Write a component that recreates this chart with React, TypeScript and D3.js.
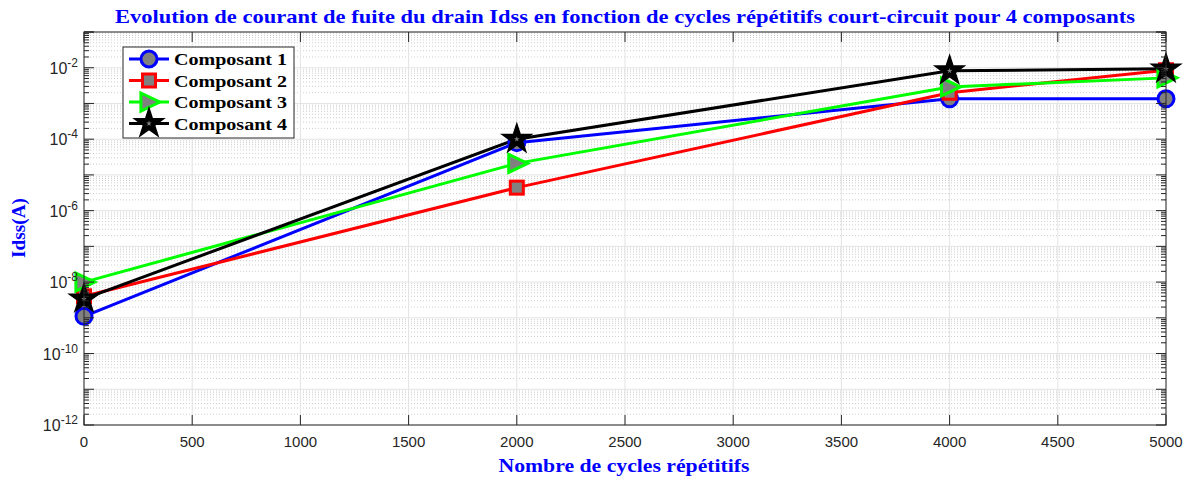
import * as d3 from "d3";

const W = 1192;
const H = 479;
const M = { top: 32, right: 26, bottom: 54, left: 84 };

const cycles = [0, 2000, 4000, 5000];
const seriesNames = ["Composant 1", "Composant 2", "Composant 3", "Composant 4"];
const comp1 = [1.1e-9, 8e-5, 1.35e-3, 1.35e-3];
const comp2 = [4e-9, 4.4e-6, 2e-3, 8.5e-3];
const comp3 = [1e-8, 2.1e-5, 2.9e-3, 5.2e-3];
const comp4 = [3.4e-9, 1e-4, 8.2e-3, 9.3e-3];
const xTicks = [0, 500, 1000, 1500, 2000, 2500, 3000, 3500, 4000, 4500, 5000];
const yLabelExps = [-12, -10, -8, -6, -4, -2];

const colors = ["#0000ff", "#ff0000", "#00ff00", "#000000"];
const markers = ["circle", "square", "triangle", "star"];
const allSeries = [comp1, comp2, comp3, comp4];

const serif = "'Liberation Serif', 'Times New Roman', serif";
const sans = "'Liberation Sans', Arial, sans-serif";

const Marker = ({ type, x, y, color, size = 1 }) => {
  if (type === "circle")
    return <circle cx={x} cy={y} r={8 * size} fill="#808080" stroke={color} strokeWidth={3} />;
  if (type === "square")
    return <rect x={x - 6.5 * size} y={y - 6.5 * size} width={13 * size} height={13 * size} fill="#808080" stroke={color} strokeWidth={3} />;
  if (type === "triangle") {
    const s = 9 * size;
    return <path d={`M${x - s * 0.9},${y - s} L${x + s * 1.2},${y} L${x - s * 0.9},${y + s} Z`} fill="#808080" stroke={color} strokeWidth={3} />;
  }
  const star = d3.symbol().type(d3.symbolStar).size(260 * size * size)();
  return (
    <g transform={`translate(${x},${y})`}>
      <path d={star} fill="#000" stroke="#000" strokeWidth={1.5} />
      <path d={d3.symbol().type(d3.symbolStar).size(10)()} fill="#808080" />
    </g>
  );
};

export default function App() {
  const iw = W - M.left - M.right;
  const ih = H - M.top - M.bottom;
  const x = d3.scaleLinear().domain([0, 5000]).range([0, iw]);
  const y = d3.scaleLog().domain([1e-12, 1e-1]).range([ih, 0]);

  const majors = d3.range(-12, 0).map((e) => Math.pow(10, e));
  const minors = [];
  d3.range(-12, -1).forEach((e) => {
    for (let k = 2; k <= 9; k++) minors.push(k * Math.pow(10, e));
  });

  const line = d3
    .line<number>()
    .x((_, i) => x(cycles[i]))
    .y((d) => y(d));

  return (
    <svg width={W} height={H} style={{ position: "absolute", left: 0, top: 0, background: "#fff" }}>
      <text x={625} y={23} textAnchor="middle" fontFamily={serif} fontWeight="bold" fontSize={19} fill="#0000ff" textLength={1020} lengthAdjust="spacingAndGlyphs">
        Evolution de courant de fuite du drain Idss en fonction de cycles répétitifs court-circuit pour 4 composants
      </text>
      <g transform={`translate(${M.left},${M.top})`}>
        {minors.map((v, i) => (
          <line key={"mg" + i} x1={0} x2={iw} y1={y(v)} y2={y(v)} stroke="#cfcfcf" strokeWidth={1} strokeDasharray="1,2" />
        ))}
        {majors.map((v, i) => (
          <line key={"Mg" + i} x1={0} x2={iw} y1={y(v)} y2={y(v)} stroke="#e3e3e3" strokeWidth={1} />
        ))}
        {xTicks.map((t) => (
          <line key={"xg" + t} x1={x(t)} x2={x(t)} y1={0} y2={ih} stroke="#e3e3e3" strokeWidth={1} />
        ))}

        {allSeries.map((s, i) => (
          <path key={"l" + i} d={line(s)} fill="none" stroke={colors[i]} strokeWidth={3} />
        ))}
        {allSeries.map((s, i) =>
          s.map((v, j) => <Marker key={`m${i}-${j}`} type={markers[i]} x={x(cycles[j])} y={y(v)} color={colors[i]} />)
        )}

        {/* box + ticks */}
        <rect x={0} y={0} width={iw} height={ih} fill="none" stroke="#262626" strokeWidth={1} />
        {xTicks.map((t) => (
          <g key={"xt" + t}>
            <line x1={x(t)} x2={x(t)} y1={ih} y2={ih - 10} stroke="#262626" />
            <line x1={x(t)} x2={x(t)} y1={0} y2={10} stroke="#262626" />
            <text x={x(t)} y={ih + 22} textAnchor="middle" fontFamily={sans} fontSize={15} fill="#262626">
              {t}
            </text>
          </g>
        ))}
        {majors.concat([1e-1]).map((v, i) => (
          <g key={"yt" + i}>
            <line x1={0} x2={10} y1={y(v)} y2={y(v)} stroke="#262626" />
            <line x1={iw} x2={iw - 10} y1={y(v)} y2={y(v)} stroke="#262626" />
          </g>
        ))}
        {minors.map((v, i) => (
          <g key={"ymt" + i}>
            <line x1={0} x2={5} y1={y(v)} y2={y(v)} stroke="#262626" />
            <line x1={iw} x2={iw - 5} y1={y(v)} y2={y(v)} stroke="#262626" />
          </g>
        ))}
        {yLabelExps.map((e) => (
          <text key={"yl" + e} x={-6} y={y(Math.pow(10, e)) + 6} textAnchor="end" fontFamily={sans} fontSize={16} fill="#262626">
            10
            <tspan dy={-7} fontSize={12}>
              {e}
            </tspan>
          </text>
        ))}

        {/* legend */}
        <g transform="translate(39,15)">
          <rect x={0} y={0} width={171} height={91} fill="#fff" stroke="#262626" strokeWidth={1} />
          {seriesNames.map((n, i) => {
            const ly = 12 + i * 21.5;
            return (
              <g key={"lg" + i}>
                <line x1={6} x2={46} y1={ly} y2={ly} stroke={colors[i]} strokeWidth={3} />
                <Marker type={markers[i]} x={26} y={ly} color={colors[i]} />
                <text x={51} y={ly + 6} fontFamily={serif} fontWeight="bold" fontSize={17} fill="#000" textLength={113} lengthAdjust="spacingAndGlyphs">
                  {n}
                </text>
              </g>
            );
          })}
        </g>
      </g>
      <text x={624} y={472} textAnchor="middle" fontFamily={serif} fontWeight="bold" fontSize={19} fill="#0000ff" textLength={251} lengthAdjust="spacingAndGlyphs">
        Nombre de cycles répétitifs
      </text>
      <text transform={`translate(25,228) rotate(-90)`} textAnchor="middle" fontFamily={serif} fontWeight="bold" fontSize={19} fill="#0000ff" textLength={60} lengthAdjust="spacingAndGlyphs">
        Idss(A)
      </text>
    </svg>
  );
}
